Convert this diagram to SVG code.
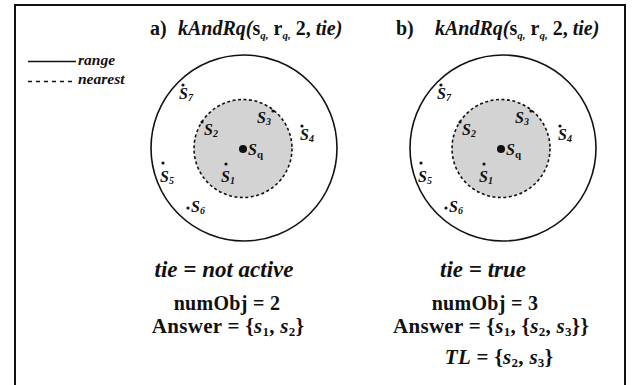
<svg xmlns="http://www.w3.org/2000/svg" width="640" height="385" viewBox="0 0 640 385">
<style>
text{font-family:"Liberation Serif","Times New Roman",serif;fill:#111}
.b{font-weight:bold}
.i{font-style:italic}
.lbl{font-size:16px;font-weight:bold;font-style:italic}
.sub{font-size:10px}
.tsub{font-size:11px;font-style:italic}
.bsub{font-size:13px;font-style:normal}
.ttl{font-size:20px;font-weight:bold}
.big{font-size:20px;font-weight:bold;letter-spacing:0.3px}
.ans{font-size:21px;font-weight:bold;letter-spacing:0.3px}
.tie{font-size:23px;font-weight:bold;font-style:italic}
.range{fill:none;stroke:#111;stroke-width:1.6}
.near{fill:#d3d3d3;stroke:#111;stroke-width:1.6;stroke-dasharray:3 2.5}
.dot{fill:#111}
</style>
<rect x="15" y="5" width="610" height="400" fill="#fff" stroke="#111" stroke-width="2"/>
<g id="legend">
<line x1="28" y1="61.5" x2="76" y2="61.5" stroke="#111" stroke-width="1.3"/>
<text x="78" y="65" font-size="15.5" class="b i">range</text>
<line x1="28" y1="81.5" x2="76" y2="81.5" stroke="#111" stroke-width="1.3" stroke-dasharray="4 4"/>
<text x="78" y="84" font-size="15.5" class="b i">nearest</text>
</g>
<g id="title-a"><text x="150" y="35" class="ttl">a)<tspan x="178" class="i">kAndRq(</tspan>s<tspan class="tsub" dy="4">q,</tspan><tspan dy="-4"> r</tspan><tspan class="tsub" dy="4">q,</tspan><tspan dy="-4"> 2, </tspan><tspan class="i">tie)</tspan></text></g>
<g id="title-b"><text x="396" y="35" class="ttl">b)<tspan x="435" class="i">kAndRq(</tspan>s<tspan class="tsub" dy="4">q,</tspan><tspan dy="-4"> r</tspan><tspan class="tsub" dy="4">q,</tspan><tspan dy="-4"> 2, </tspan><tspan class="i">tie)</tspan></text></g>
<g id="panel-a">
<g id="a-range"><circle cx="244" cy="148" r="93" class="range"/></g>
<g id="a-nearest"><circle cx="243" cy="148.5" r="49" class="near"/></g>
<g id="a-sq"><circle cx="243" cy="149" r="4" class="dot"/><text x="248" y="155" class="lbl">S<tspan class="tsub" font-style="normal" style="font-style:normal" dy="3">q</tspan></text></g>
<g id="a-s1"><circle cx="226" cy="164" r="1.6" class="dot"/><text x="221" y="182" class="lbl">S<tspan class="sub" dy="2">1</tspan></text></g>
<g id="a-s2"><circle cx="202" cy="122" r="1.6" class="dot"/><text x="204" y="135" class="lbl">S<tspan class="sub" dy="2">2</tspan></text></g>
<g id="a-s3"><circle cx="273" cy="111" r="1.6" class="dot"/><text x="257" y="123" class="lbl">S<tspan class="sub" dy="2">3</tspan></text></g>
<g id="a-s4"><circle cx="302" cy="126" r="1.6" class="dot"/><text x="300" y="140" class="lbl">S<tspan class="sub" dy="2">4</tspan></text></g>
<g id="a-s5"><circle cx="163" cy="163" r="1.6" class="dot"/><text x="160" y="182" class="lbl">S<tspan class="sub" dy="2">5</tspan></text></g>
<g id="a-s6"><circle cx="188" cy="208" r="1.6" class="dot"/><text x="191" y="212" class="lbl">S<tspan class="sub" dy="2">6</tspan></text></g>
<g id="a-s7"><circle cx="183" cy="85" r="1.6" class="dot"/><text x="179" y="99" class="lbl">S<tspan class="sub" dy="2">7</tspan></text></g>
</g>
<g id="panel-b" transform="translate(258,0)">
<g id="b-range"><circle cx="245" cy="148" r="93" class="range"/></g>
<g id="b-nearest"><circle cx="243" cy="148.5" r="49" class="near"/></g>
<g id="b-sq"><circle cx="243" cy="149" r="4" class="dot"/><text x="248" y="155" class="lbl">S<tspan class="tsub" style="font-style:normal" dy="3">q</tspan></text></g>
<g id="b-s1"><circle cx="226" cy="164" r="1.6" class="dot"/><text x="221" y="182" class="lbl">S<tspan class="sub" dy="2">1</tspan></text></g>
<g id="b-s2"><circle cx="202" cy="122" r="1.6" class="dot"/><text x="204" y="135" class="lbl">S<tspan class="sub" dy="2">2</tspan></text></g>
<g id="b-s3"><circle cx="273" cy="111" r="1.6" class="dot"/><text x="257" y="123" class="lbl">S<tspan class="sub" dy="2">3</tspan></text></g>
<g id="b-s4"><circle cx="302" cy="126" r="1.6" class="dot"/><text x="300" y="140" class="lbl">S<tspan class="sub" dy="2">4</tspan></text></g>
<g id="b-s5"><circle cx="163" cy="163" r="1.6" class="dot"/><text x="160" y="182" class="lbl">S<tspan class="sub" dy="2">5</tspan></text></g>
<g id="b-s6"><circle cx="188" cy="208" r="1.6" class="dot"/><text x="191" y="212" class="lbl">S<tspan class="sub" dy="2">6</tspan></text></g>
<g id="b-s7"><circle cx="183" cy="85" r="1.6" class="dot"/><text x="179" y="99" class="lbl">S<tspan class="sub" dy="2">7</tspan></text></g>
</g>
<g id="result-a" text-anchor="middle">
<text x="224" y="277" class="tie">tie = not active</text>
<text x="227" y="310" class="big">numObj = 2</text>
<text x="228" y="333" class="ans">Answer = {<tspan class="i">s</tspan><tspan class="bsub" dy="3">1</tspan><tspan dy="-3">, </tspan><tspan class="i">s</tspan><tspan class="bsub" dy="3">2</tspan><tspan dy="-3">}</tspan></text>
</g>
<g id="result-b" text-anchor="middle">
<text x="483" y="277" class="tie">tie = true</text>
<text x="485" y="310" class="big">numObj = 3</text>
<text x="491" y="333" class="ans">Answer = {<tspan class="i">s</tspan><tspan class="bsub" dy="3">1</tspan><tspan dy="-3">, {</tspan><tspan class="i">s</tspan><tspan class="bsub" dy="3">2</tspan><tspan dy="-3">, </tspan><tspan class="i">s</tspan><tspan class="bsub" dy="3">3</tspan><tspan dy="-3">}}</tspan></text>
<text x="499" y="364" class="ans"><tspan class="i">TL</tspan> = {<tspan class="i">s</tspan><tspan class="bsub" dy="3">2</tspan><tspan dy="-3">, </tspan><tspan class="i">s</tspan><tspan class="bsub" dy="3">3</tspan><tspan dy="-3">}</tspan></text>
</g>
</svg>
